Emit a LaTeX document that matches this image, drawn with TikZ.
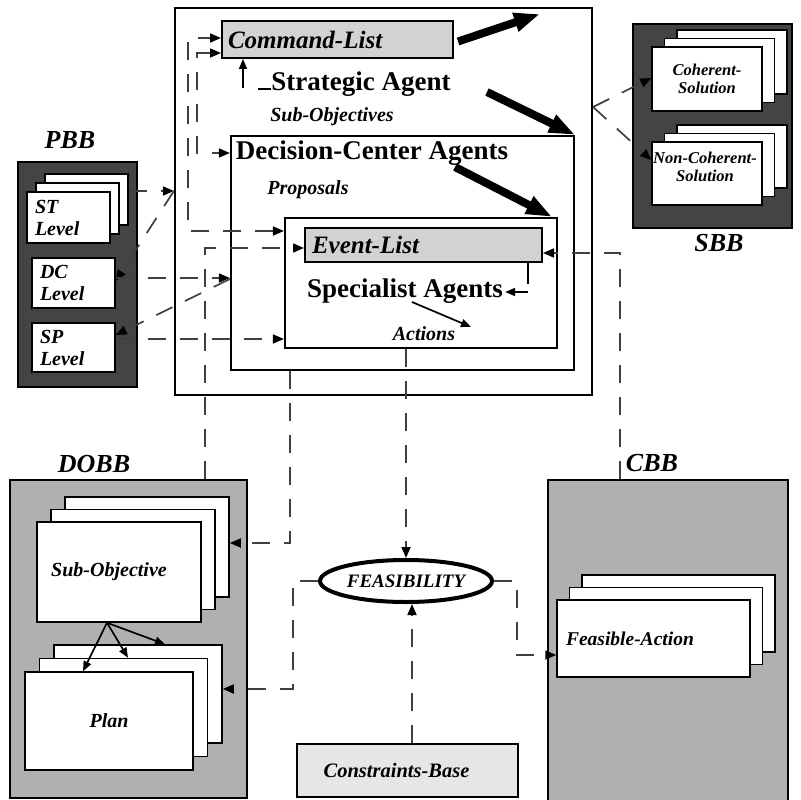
\documentclass[tikz,border=0pt]{standalone}
\usepackage{fontspec}
\setmainfont{Liberation Serif}
\usetikzlibrary{arrows.meta,shapes.geometric,calc}

\definecolor{darkbb}{HTML}{444444}
\definecolor{midbb}{HTML}{B0B0B0}
\definecolor{listbg}{HTML}{D2D2D2}
\definecolor{basebg}{HTML}{E6E6E6}

\tikzset{
  frame/.style={draw, line width=2.2pt, inner sep=0pt},
  bbox/.style={draw, line width=1.8pt, inner sep=0pt},
  card/.style={draw, fill=white, line width=1.5pt, inner sep=0pt, align=center},
  listbox/.style={draw, fill=listbg, line width=2pt, inner sep=0pt, align=left,
    font=\fontsize{25}{27}\selectfont\bfseries\itshape},
  bigbf/.style={font=\fontsize{27}{30}\selectfont\bfseries, inner sep=0pt},
  smit/.style={font=\fontsize{20}{22}\selectfont\bfseries\itshape, inner sep=0pt},
  tinyit/.style={font=\fontsize{16.5}{18}\selectfont\bfseries\itshape},
  bbtitle/.style={font=\fontsize{26}{28}\selectfont\bfseries\itshape, inner sep=0pt},
  tip/.style={-{Triangle[length=11pt,width=9pt,color=black]}},
  conn/.style={line width=1.7pt, draw=black!75, dash pattern=on 18pt off 14pt, tip},
  conn2/.style={line width=1.7pt, draw=black!75, dash pattern=on 18pt off 14pt,
    {Triangle[length=11pt,width=9pt,color=black]}-{Triangle[length=11pt,width=9pt,color=black]}},
  link/.style={line width=1.7pt, -{Triangle[length=10pt,width=8pt]}},
  fat/.style={line width=8pt, -{Triangle[length=26pt,width=18pt]}},
}

% two back cards of a stack: name, centre x, centre y, width, height, dx, dy
\newcommand\backcards[7]{%
  \node[card, minimum width=#4pt, minimum height=#5pt] (#13) at ({#2+2*(#6)},{#3+2*(#7)}) {};
  \node[card, minimum width=#4pt, minimum height=#5pt] (#12) at ({#2+#6},{#3+#7}) {};
}

\begin{document}
\begin{tikzpicture}[x=1pt, y=-1pt]
\useasboundingbox (0,0) rectangle (801,800);

% ---------- agent hierarchy ----------
\node[frame, minimum width=417pt, minimum height=387pt] (sa) at (383.5,201.5) {};
\node[frame, minimum width=343pt, minimum height=234pt] (dc) at (402.5,253) {};
\node[frame, minimum width=272pt, minimum height=130pt] (sp) at (421,283) {};

\node[listbox, minimum width=231pt, minimum height=37pt, text width=219pt, inner xsep=6pt]
  (cmd) at (337.5,39.5) {Command-List};
\node[listbox, minimum width=237pt, minimum height=34pt, text width=223pt, inner xsep=7pt]
  (ev) at (423.5,245) {Event-List};

\node[bigbf] (satxt) at (361,84) {Strategic Agent};
\node[smit] (subobj) at (332,117) {Sub-Objectives};
\node[bigbf] (dctxt) at (372,153) {Decision-Center Agents};
\node[smit] (prop) at (308,190) {Proposals};
\node[bigbf] (sptxt) at (405,291) {Specialist Agents};
\node[smit] (act) at (424,334) {Actions};

\coordinate (fatend) at (540,14);
\draw[fat] ([xshift=4pt,yshift=-2pt]cmd.east) -- (fatend);
\draw[fat] (487,92) -- (dc.north east);
\draw[fat] (455,167) -- ([xshift=-6pt]sp.north east);

% ---------- PBB ----------
\node[bbtitle] (pbbt) at (70,140) {PBB};
\node[bbox, fill=darkbb, minimum width=119pt, minimum height=225pt] (pbb) at (77.5,274.5) {};
\backcards{st}{68.5}{217.5}{83}{51}{9}{-9}
\node[card, minimum width=83pt, minimum height=51pt, text width=67pt, inner xsep=8pt, align=left,
  font=\fontsize{20}{22}\selectfont\bfseries\itshape] (st) at (68.5,217.5) {ST\\Level};
\node[card, minimum width=83pt, minimum height=50pt, text width=67pt, inner xsep=8pt, align=left,
  font=\fontsize{20}{22}\selectfont\bfseries\itshape] (dcl) at (73.5,283) {DC\\Level};
\node[card, minimum width=83pt, minimum height=49pt, text width=67pt, inner xsep=8pt, align=left,
  font=\fontsize{20}{22}\selectfont\bfseries\itshape] (spl) at (73.5,347.5) {SP\\Level};

% ---------- SBB ----------
\node[bbox, fill=darkbb, minimum width=159pt, minimum height=204pt] (sbb) at (712.5,126) {};
\node[bbtitle] (sbbt) at (719,243) {SBB};
\backcards{coh}{707}{79}{110}{64}{12.5}{-8.5}
\node[card, tinyit, minimum width=110pt, minimum height=64pt] (coh) at (707,79) {Coherent-\\Solution};
\backcards{nco}{707}{173.5}{110}{63}{12.5}{-8.5}
\node[card, tinyit, minimum width=110pt, minimum height=63pt] (nco) at (707,173.5) {};
\node[tinyit, align=center, inner sep=0pt] (ncotxt) at (705,167) {Non-Coherent-\\Solution};

% ---------- DOBB ----------
\node[bbtitle] (dobbt) at (94,464) {DOBB};
\node[bbox, fill=midbb, minimum width=237pt, minimum height=318pt] (dobb) at (128.5,639) {};
\backcards{so}{119}{572}{164}{100}{14}{-12.5}
\node[card, minimum width=164pt, minimum height=100pt, font=\fontsize{20}{22}\selectfont\bfseries\itshape]
  (so) at (119,572) {\hspace*{-20pt}Sub-Objective};
\backcards{pl}{109}{721}{168}{98}{14.5}{-13.5}
\node[card, minimum width=168pt, minimum height=98pt, font=\fontsize{20}{22}\selectfont\bfseries\itshape]
  (pl) at (109,721) {Plan};
\coordinate (sob) at ([xshift=-12pt]so.south);
\draw[link] (sob) -- (pl.north -| 83,0);
\draw[link] (sob) -- (pl2.north -| 128,0);
\draw[link] (sob) -- (pl3.north -| 165,0);

% ---------- CBB ----------
\node[bbtitle] (cbbt) at (652,463) {CBB};
\node[bbox, fill=midbb, minimum width=240pt, minimum height=322pt] (cbb) at (668,641) {};
\backcards{fa}{653.5}{638.5}{193}{77}{12.5}{-12.5}
\node[card, minimum width=193pt, minimum height=77pt, text width=175pt, inner xsep=9pt, align=left,
  font=\fontsize{19.5}{22}\selectfont\bfseries\itshape] (fa) at (653.5,638.5) {Feasible-Action\\[10pt]};

% ---------- feasibility check ----------
\node[ellipse, draw, line width=4pt, fill=white, minimum width=172pt, minimum height=42pt, inner sep=0pt,
  font=\fontsize{19}{21}\selectfont\bfseries\itshape] (feas) at (406,581) {FEASIBILITY};
\node[draw, fill=basebg, line width=2pt, minimum width=221pt, minimum height=53pt, inner sep=0pt,
  font=\fontsize{20.5}{22}\selectfont\bfseries\itshape] (cb) at (407.5,770.5) {\hspace*{-22pt}Constraints-Base};

% ---------- connectors ----------
% lists and agents
\draw[conn2] (sp.west |- 0,231) -- (188,231) -- (188,38) -- (cmd.west |- 0,38);
\draw[conn2] (cmd.west |- 0,53) -- (197,53) -- (197,153) -- (dc.west |- 0,153);
\draw[link] (243,88) -- (cmd.south -| 243,0);
\draw[line width=1.7pt] (258,89) -- (271,89);
\draw[line width=1.7pt] (ev.south -| 528,0) -- (528,284);
\draw[link] (528,292) -- ([xshift=2pt]sptxt.east |- 0,292);
\coordinate (actin) at (471,327);
\draw[link] (412,302) -- (actin);

% planning levels
\draw[conn] (st3.east |- 0,191) -- (sa.west |- 0,191);
\draw[conn] (sa.west |- 0,191) -- (dcl.east |- 0,281);
\draw[conn] (dcl.east |- 0,278) -- (dc.west |- 0,278);
\draw[conn] (dc.west |- 0,279) -- (spl.east |- 0,335);
\draw[conn] (spl.east |- 0,339) -- (sp.west |- 0,339);

% solutions
\draw[conn] (sa.east |- 0,107) -- (coh.west |- 0,78);
\draw[conn] (sa.east |- 0,107) -- (nco.west |- 0,160);

% objectives, constraints, feasibility
\draw[conn] (dc.south -| 290,0) -- (290,543) -- (so3.east |- 0,543);
\draw[conn] (dobb.north -| 205,0) -- (205,248) -- (ev.west |- 0,248);
\draw[conn] (cbb.north -| 620,0) -- (620,253) -- (ev.east |- 0,253);
\draw[conn] (sp.south -| feas.north) -- (feas.north);
\draw[conn] (cb.north -| 412,0) -- (feas.south -| 412,0);
\draw[conn] (feas.west) -- (293,581) -- (293,689) -- (pl3.east |- 0,689);
\draw[conn] (feas.east) -- (517,581) -- (517,655) -- (fa.west |- 0,655);
\end{tikzpicture}
\end{document}
